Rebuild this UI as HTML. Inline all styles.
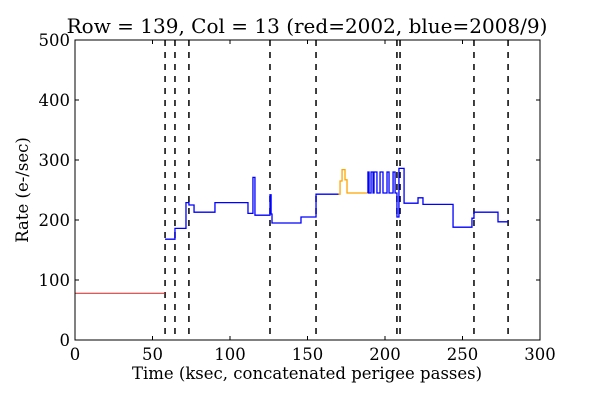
<!DOCTYPE html>
<html><head><meta charset="utf-8"><style>
html,body{margin:0;padding:0;background:#fff;}
svg text{font-family:"DejaVu Serif","Liberation Serif",serif;fill:#000;}
</style></head><body>
<svg id="chart" width="600" height="400" xmlns="http://www.w3.org/2000/svg">
<rect width="600" height="400" fill="#fff"/>
<g id="plot"></g>
</svg>
<script>
const xTicks=[0,50,100,150,200,250,300];
const yTicks=[0,100,200,300,400,500];
const vlines=[58.1,64.5,73.5,125.8,155.5,207.7,209.7,257.4,279.4];
const redT=[0,58.1];
const redV=[78,78];
const blueT1=[58.1,64.5,71.6,73.5,76.8,90.3,111.6,114.8,116.1,125.8,126.5,127.1,145.8,155.5,170];
const blueV1=[168,186,229,225,213,229,211,271,208,242,210,195,205,243,243];
const blueT2=[188.9,189,189.7,191,192.3,192.9,194.8,196.8,198.7,201.3,202.6,205.2,206.5,207.7,209,212.3,221.3,224.5,243.9,256.1,257.4,272.9,279.4];
const blueV2=[245,280,245,280,245,280,245,280,245,280,245,280,245,205,286,228,237,226,188,203,213,197,197];
const orangeT=[170,171,172.3,174.2,175.5,188.9];
const orangeV=[243,265,284,267,245,245];
const L=75,R=540,T=40,B=340;
const xs=t=>L+(t-0)/300*(R-L);
const ys=v=>B-v/500*(B-T);
const NS="http://www.w3.org/2000/svg";
const g=document.getElementById('plot');
function mk(tag,attrs){const e=document.createElementNS(NS,tag);for(const k in attrs)e.setAttribute(k,attrs[k]);g.appendChild(e);return e;}
function stepPts(tt,vv){let p=[];for(let i=0;i<tt.length;i++){if(i>0)p.push(xs(tt[i])+','+ys(vv[i-1]));p.push(xs(tt[i])+','+ys(vv[i]));}return p.join(' ');}
vlines.forEach(t=>{const e=mk('line',{x1:xs(t),x2:xs(t),y1:T,y2:B,stroke:'#000','stroke-width':1.5,'stroke-dasharray':'6,6'});

});
let e=mk('polyline',{points:stepPts(redT,redV),fill:'none',stroke:'#d62020','stroke-width':1});


e=mk('polyline',{points:stepPts(blueT1,blueV1),fill:'none',stroke:'#0000ff','stroke-width':1.3});


e=mk('polyline',{points:stepPts(orangeT,orangeV),fill:'none',stroke:'#ffa500','stroke-width':1.3});


e=mk('polyline',{points:stepPts(blueT2,blueV2),fill:'none',stroke:'#0000ff','stroke-width':1.3});


e=mk('rect',{x:L,y:T,width:R-L,height:B-T,fill:'none',stroke:'#000','stroke-width':1});


xTicks.forEach(t=>{const x=xs(t);
mk('line',{x1:x,x2:x,y1:B,y2:B-4,stroke:'#000'});mk('line',{x1:x,x2:x,y1:T,y2:T+4,stroke:'#000'});
const tx=mk('text',{x:x,y:B+20,'text-anchor':'middle','font-size':16.5});tx.textContent=t;

});
yTicks.forEach(v=>{const y=ys(v);
mk('line',{x1:L,x2:L+4,y1:y,y2:y,stroke:'#000'});mk('line',{x1:R,x2:R-4,y1:y,y2:y,stroke:'#000'});
const tx=mk('text',{x:L-5,y:y+6,'text-anchor':'end','font-size':16.5});tx.textContent=v;

});
let t1=mk('text',{x:307,y:33,'text-anchor':'middle','font-size':20});t1.textContent='Row = 139, Col = 13 (red=2002, blue=2008/9)';


let t2=mk('text',{x:307,y:379,'text-anchor':'middle','font-size':16.5});t2.textContent='Time (ksec, concatenated perigee passes)';


let t3=mk('text',{x:28,y:190,'text-anchor':'middle','font-size':16.5,transform:'rotate(-90 28 190)'});t3.textContent='Rate (e-/sec)';


</script>
</body></html>
